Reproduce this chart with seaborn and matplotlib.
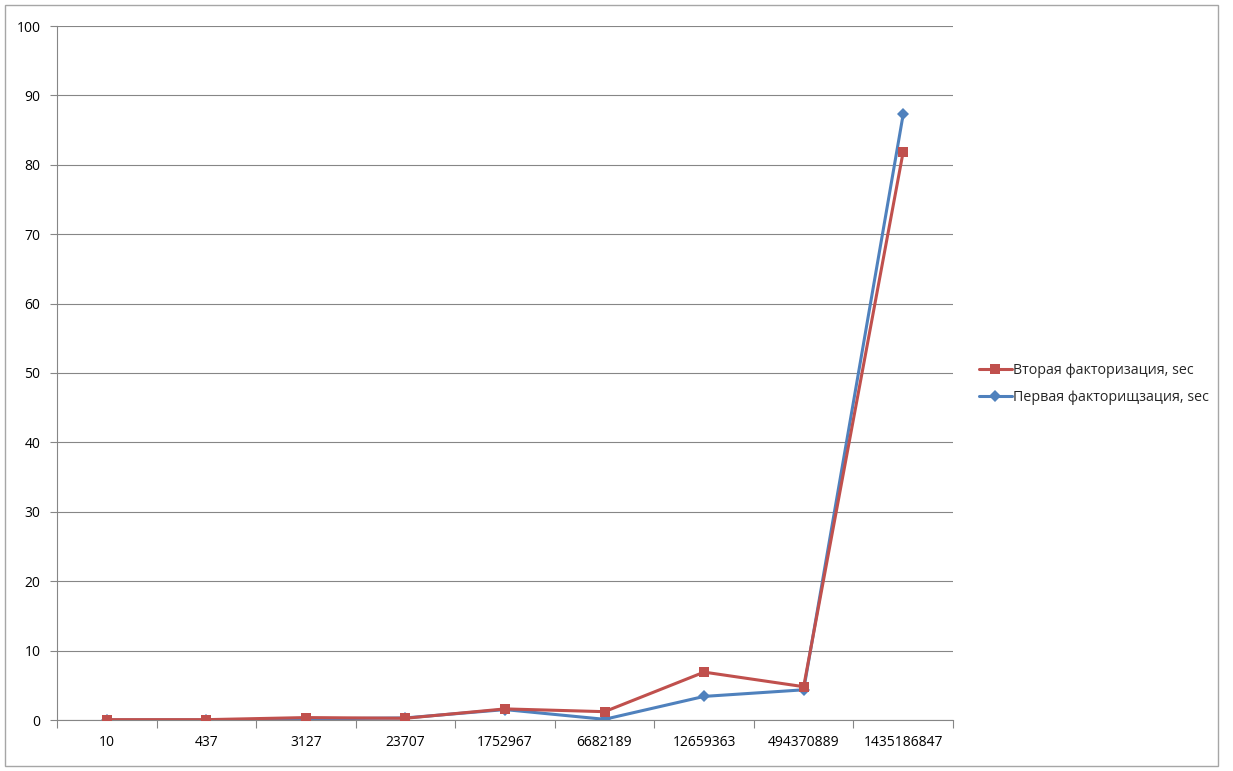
import numpy as np
import pandas as pd
import matplotlib
matplotlib.use("Agg")
import matplotlib.pyplot as plt
from matplotlib.lines import Line2D
import seaborn as sns

# -----------------------------
# Data
# -----------------------------
categories = ["10", "437", "3127", "23707", "1752967", "6682189",
              "12659363", "494370889", "1435186847"]
second_fact = [0.05, 0.05, 0.35, 0.25, 1.6, 1.2, 6.9, 4.8, 81.9]
first_fact = [0.0, 0.0, 0.15, 0.3, 1.5, 0.1, 3.4, 4.35, 87.3]

name_second = "Вторая факторизация, sec"
name_first = "Первая факторищзация, sec"

df = pd.DataFrame({
    "pos": list(range(len(categories))) * 2,
    "value": second_fact + first_fact,
    "series": [name_second] * len(categories) + [name_first] * len(categories),
})

sns.set_style("white")
plt.rcParams["font.family"] = ["Open Sans", "DejaVu Sans"]

fig = plt.figure(figsize=(12.33, 7.71), dpi=100)
ax = fig.add_axes([57 / 1233, 51 / 771, 896 / 1233, 694 / 771])

# outer chart border
fig.patches.append(plt.Rectangle((0.004, 0.006), 0.984, 0.988, transform=fig.transFigure,
                                 fill=False, edgecolor="#a6a6a6", linewidth=1))

palette = {name_second: "#c0504d", name_first: "#4f81bd"}
sns.lineplot(data=df, x="pos", y="value", hue="series", style="series",
             markers={name_second: "s", name_first: "D"}, dashes=False,
             palette=palette, linewidth=2.2, markersize=7.5, markeredgewidth=0,
             ax=ax, legend=False, zorder=3)
# blue diamonds a bit smaller, drawn under the red line
for line in ax.get_lines():
    if line.get_color() == palette[name_first]:
        line.set_markersize(6.5)
        line.set_zorder(2)

ax.set_xlim(-0.5, len(categories) - 0.5)
ax.set_ylim(0, 100)
ax.set_yticks(np.arange(0, 101, 10))
ax.set_xticks(range(len(categories)))
ax.set_xticklabels(categories)
ax.set_xticks(np.arange(-0.5, len(categories), 1), minor=True)
ax.set_xlabel("")
ax.set_ylabel("")

ax.grid(axis="y", color="#868686", linewidth=0.8)
ax.set_axisbelow(True)
for side in ["top", "right"]:
    ax.spines[side].set_visible(False)
for side in ["left", "bottom"]:
    ax.spines[side].set_color("#868686")
    ax.spines[side].set_linewidth(0.8)

ax.tick_params(axis="x", which="major", length=0, pad=11, labelsize=10, colors="black")
ax.tick_params(axis="x", which="minor", length=6, color="#868686", width=0.8, direction="out", bottom=True)
ax.tick_params(axis="y", length=5, color="#868686", width=0.8, direction="out", left=True,
               pad=7, labelsize=10, colors="black")

# legend
handles = [
    Line2D([], [], color=palette[name_second], marker="s", markersize=7.5, linewidth=2.2, markeredgewidth=0),
    Line2D([], [], color=palette[name_first], marker="D", markersize=6.5, linewidth=2.2, markeredgewidth=0),
]
fig.legend(handles, [name_second, name_first], loc="center left",
           bbox_to_anchor=(966 / 1233, 1 - 384 / 771), frameon=False, fontsize=10.3,
           handlelength=2.3, handletextpad=0.1, labelspacing=0.85)

fig.savefig("out.png", dpi=100)
